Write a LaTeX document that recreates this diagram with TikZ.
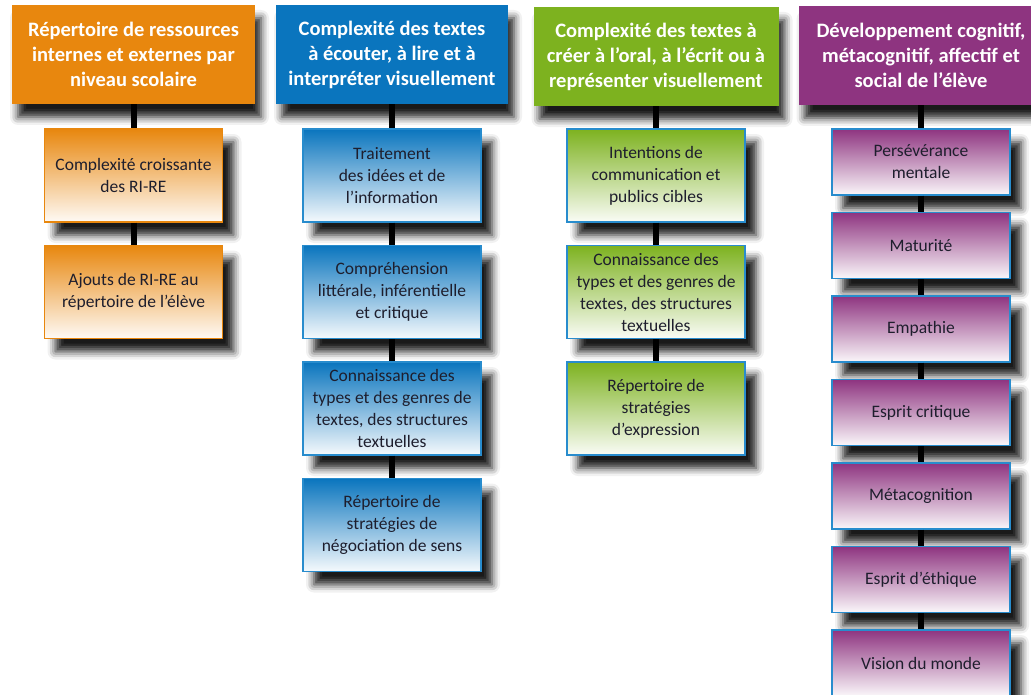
\documentclass[tikz,border=0pt]{standalone}
\usepackage{fontspec}
\setmainfont{Carlito}
\usepackage{xcolor}
\usetikzlibrary{positioning,shadows.blur}

\definecolor{corange}{RGB}{232,135,14}
\definecolor{cblue}{RGB}{10,117,190}
\definecolor{cgreen}{RGB}{125,178,31}
\definecolor{cpurple}{RGB}{142,52,128}
\definecolor{cframe}{RGB}{40,140,205}
\definecolor{ctext}{RGB}{30,30,45}

\begin{document}
\begin{tikzpicture}[x=1pt,y=1pt,on grid=true,
    head/.style = {rectangle, minimum height=99pt, align=center, text=white,
      font=\fontsize{20.5}{25}\selectfont\bfseries,
      blur shadow={shadow xshift=6pt, shadow yshift=-13pt, shadow blur radius=8pt, shadow opacity=90}},
    item/.style = {rectangle, draw=cframe, line width=1.2pt, minimum width=178pt,
      minimum height=93pt, align=center, text=ctext,
      font=\fontsize{17.5}{22}\selectfont,
      blur shadow={shadow xshift=11pt, shadow yshift=-13pt, shadow blur radius=8pt, shadow opacity=90}},
    short/.style = {minimum height=66pt},
    link/.style = {line width=6pt, black}]
      \useasboundingbox (0,0) rectangle (1031,-695);

      % headers
      \node[head,fill=corange,minimum width=243pt] (h1) at (133.5,-54.5) {Répertoire de ressources\\internes et externes par\\niveau scolaire};
      \node[head,fill=cblue,minimum width=232pt] (h2) at (392,-54.5) {Complexité des textes\\à écouter, à lire et à\\interpréter visuellement};
      \node[head,fill=cgreen,minimum width=245pt] (h3) at (656,-56.5) {Complexité des textes à\\créer à l’oral, à l’écrit ou à\\représenter visuellement};
      \node[head,fill=cpurple,minimum width=245pt] (h4) at (921,-55.5) {Développement cognitif,\\métacognitif, affectif et\\social de l’élève};

      % orange column
      \node[item,draw=corange,top color=corange,bottom color=corange!4] (a1) [below=121pt of h1] {Complexité croissante\\des RI-RE};
      \node[item,draw=corange,top color=corange,bottom color=corange!4] (a2) [below=116.5pt of a1] {Ajouts de RI-RE au\\répertoire de l’élève};

      % blue column
      \node[item,top color=cblue,bottom color=cblue!4] (b1) [below=121pt of h2] {Traitement\\des idées et de\\l’information};
      \node[item,top color=cblue,bottom color=cblue!4] (b2) [below=116.5pt of b1] {Compréhension\\littérale, inférentielle\\et critique};
      \node[item,top color=cblue,bottom color=cblue!4] (b3) [below=116.5pt of b2] {Connaissance des\\types et des genres de\\textes, des structures\\textuelles};
      \node[item,top color=cblue,bottom color=cblue!4] (b4) [below=116.5pt of b3] {Répertoire de\\stratégies de\\négociation de sens};

      % green column
      \node[item,top color=cgreen,bottom color=cgreen!4] (g1) [below=119pt of h3] {Intentions de\\communication et\\publics cibles};
      \node[item,top color=cgreen,bottom color=cgreen!4] (g2) [below=116.5pt of g1] {Connaissance des\\types et des genres de\\textes, des structures\\textuelles};
      \node[item,top color=cgreen,bottom color=cgreen!4] (g3) [below=116.5pt of g2] {Répertoire de\\stratégies\\d’expression};

      % purple column
      \node[item,short,top color=cpurple,bottom color=cpurple!4] (p1) [below=106.5pt of h4] {Persévérance\\mentale};
      \node[item,short,top color=cpurple,bottom color=cpurple!4] (p2) [below=83.5pt of p1] {Maturité};
      \node[item,short,top color=cpurple,bottom color=cpurple!4] (p3) [below=83.5pt of p2] {Empathie};
      \node[item,short,top color=cpurple,bottom color=cpurple!4] (p4) [below=83.5pt of p3] {Esprit critique};
      \node[item,short,top color=cpurple,bottom color=cpurple!4] (p5) [below=83.5pt of p4] {Métacognition};
      \node[item,short,top color=cpurple,bottom color=cpurple!4] (p6) [below=83.5pt of p5] {Esprit d’éthique};
      \node[item,short,top color=cpurple,bottom color=cpurple!4] (p7) [below=83.5pt of p6] {Vision du monde};

      \draw[link] (h1) to (a1);
      \draw[link] (a1) to (a2);

      \draw[link] (h2) to (b1);
      \draw[link] (b1) to (b2);
      \draw[link] (b2) to (b3);
      \draw[link] (b3) to (b4);

      \draw[link] (h3) to (g1);
      \draw[link] (g1) to (g2);
      \draw[link] (g2) to (g3);

      \draw[link] (h4) to (p1);
      \draw[link] (p1) to (p2);
      \draw[link] (p2) to (p3);
      \draw[link] (p3) to (p4);
      \draw[link] (p4) to (p5);
      \draw[link] (p5) to (p6);
      \draw[link] (p6) to (p7);
\end{tikzpicture}
\end{document}
